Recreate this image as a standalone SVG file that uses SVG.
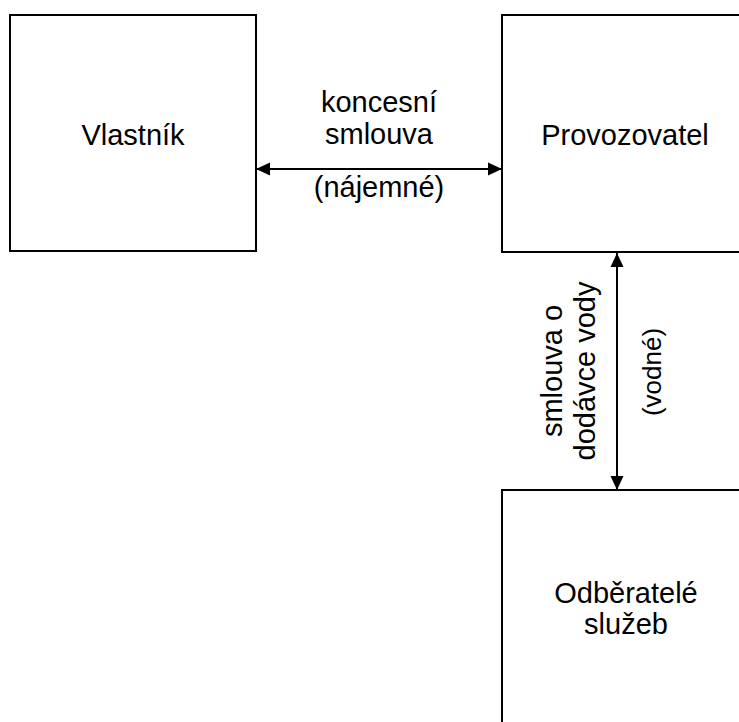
<svg xmlns="http://www.w3.org/2000/svg" width="739" height="722" viewBox="0 0 739 722">
<style>
.box{fill:#fff;stroke:#000;stroke-width:2}
.t{font-family:"Liberation Sans",Arial,sans-serif;font-size:29px;fill:#000;text-anchor:middle}
.s{font-size:26px}
.c{stroke:#000;stroke-width:2;fill:none}
</style>
<defs>
<marker id="ah" markerUnits="userSpaceOnUse" markerWidth="14" markerHeight="14" viewBox="0 0 14 14" refX="14" refY="7" orient="auto-start-reverse">
<path d="M0,0.5 L14,7 L0,13.5 z" fill="#000"/>
</marker>
</defs>
<rect width="739" height="722" fill="#fff"/>
<g id="vlastnik">
<rect class="box" x="10" y="15" width="246" height="236"/>
<text class="t" x="133" y="145">Vlastník</text>
</g>
<g id="provozovatel">
<rect class="box" x="502" y="15" width="246" height="237"/>
<text class="t" x="625" y="145">Provozovatel</text>
</g>
<g id="odberatele">
<rect class="box" x="502" y="490" width="246" height="246"/>
<text class="t" x="626" y="603">Odběratelé</text>
<text class="t" x="626" y="634">služeb</text>
</g>
<g id="connectors">
<line class="c" x1="256" y1="169" x2="502" y2="169" marker-start="url(#ah)" marker-end="url(#ah)"/>
<line class="c" x1="617" y1="253" x2="617" y2="490" marker-start="url(#ah)" marker-end="url(#ah)"/>
<text class="t" x="379" y="112">koncesní</text>
<text class="t" x="379" y="144">smlouva</text>
<text class="t" x="379" y="197">(nájemné)</text>
<text class="t" transform="translate(562,371) rotate(-90)">smlouva o</text>
<text class="t" transform="translate(595,371) rotate(-90)">dodávce vody</text>
<text class="t s" transform="translate(661,372) rotate(-90)">(vodné)</text>
</g>
</svg>
